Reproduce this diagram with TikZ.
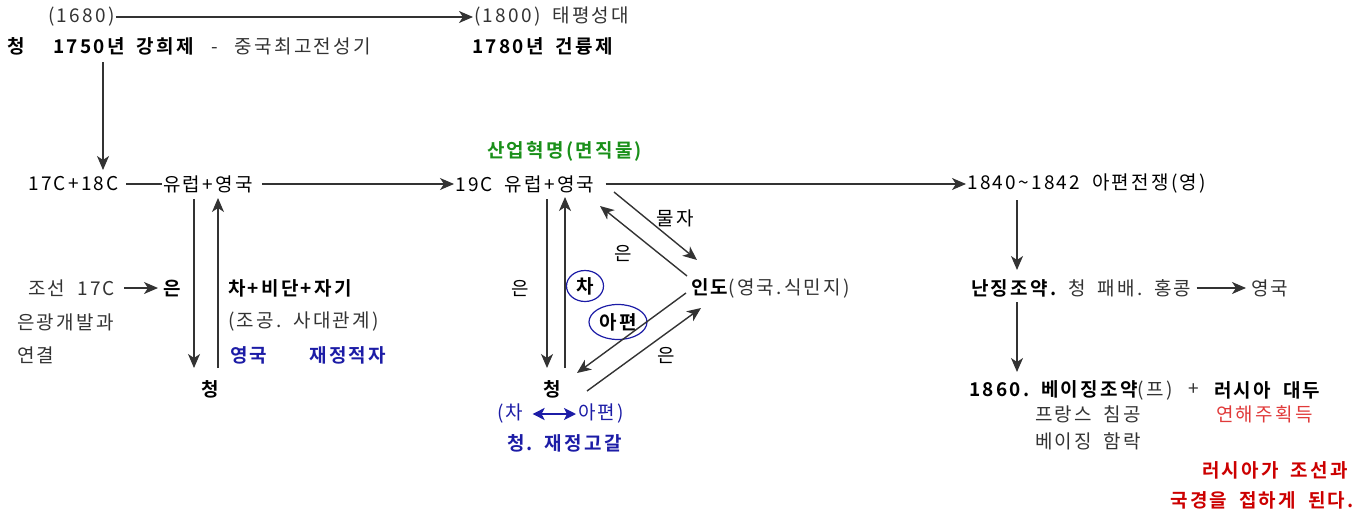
\documentclass[tikz,border=0pt]{standalone}
\usepackage{fontspec}
\setmainfont{Noto Sans CJK KR}[LetterSpace=12, WordSpace=1.8, BoldFont={Noto Sans CJK KR Bold}]
\usetikzlibrary{shapes.geometric, arrows.meta, positioning, calc}
\definecolor{inkgrey}{HTML}{333333}
\definecolor{notenavy}{HTML}{1C1CA6}
\definecolor{revgreen}{HTML}{1A901A}
\definecolor{alertred}{HTML}{CC0000}
\definecolor{softred}{HTML}{E03A3A}

\begin{document}
\begin{tikzpicture}[
    x=1pt, y=1pt,
    % text styles
    every node/.style={inner sep=1pt, font=\fontsize{19}{22}\selectfont, text=inkgrey},
    plain/.style={anchor=west},
    dark/.style={anchor=west, text=black},
    key/.style={anchor=west, text=black, font=\fontsize{19}{22}\selectfont\bfseries},
    tag/.style={ellipse, draw=notenavy, line width=1.2pt, anchor=center, inner sep=0pt},
    % arrow styles
    flow/.style={-{Stealth[length=14pt, width=12pt, inset=4pt]}, line width=1.4pt, draw=inkgrey},
    link/.style={line width=1.4pt, draw=inkgrey},
    swap/.style={{Stealth[length=12pt, width=12pt, inset=3pt]}-{Stealth[length=12pt, width=12pt, inset=3pt]}, line width=2pt, draw=notenavy},
]
\useasboundingbox (0,0) rectangle (1371,-514);

% ============================================================================
% QING DYNASTY (top)
% ============================================================================
\node[plain] (start) at (47,-17) {(1680)};
\node[plain] (peak) at (473,-17) {(1800)\ 태평성대};
\node[key] (qing0) at (6,-46) {청};
\node[key] (kangxi) at (52,-46) {1750년 강희제};
\node[plain] (kangxinote) at (210,-46) {-\hspace{17pt}중국최고전성기};
\node[key] (qianlong) at (471,-46) {1780년 건륭제};

\draw[flow] (start) -- (peak);

% ============================================================================
% EUROPE ROW
% ============================================================================
\node[dark] (c17) at (27,-184) {17C+18C};
\node[dark] (eu1) at (162,-184) {유럽+영국};
\node[dark] (eu2) at (454,-184) {19C 유럽+영국};
\node[key, text=revgreen] (indrev) at (486,-151) {산업혁명(면직물)};
\node[dark] (opium) at (966,-184) {1840\textasciitilde1842 아편전쟁(영)};

\draw[flow] ($(kangxi.west)+(51,-16)$) -- ($(c17.west)+(76,14)$);
\draw[link, shorten <=6pt] (c17) -- (eu1);
\draw[flow, shorten <=8pt] (eu1) -- (eu2);
\draw[flow, shorten <=10pt] (eu2) -- (opium);

% ============================================================================
% 17C-18C TRADE (left)
% ============================================================================
\node[plain] (joseon) at (27,-288) {조선 17C};
\node[key] (silver1) at (162,-288) {은};
\node[plain] (mine) at (16,-322) {은광개발과};
\node[plain] (link) at (16,-355) {연결};
\node[key] (goods) at (227,-288) {차+비단+자기};
\node[plain] (tribute) at (227,-322) {(조공.\ 사대관계)};
\node[key, text=notenavy] (deficit) at (229,-355) {영국\hspace{42pt}재정적자};
\node[key, anchor=center] (qing1) at (210,-389) {청};

\draw[flow, shorten <=8pt, shorten >=4pt] (joseon) -- (silver1);
\draw[flow] ($(qing1)+(-16,190)$) -- ($(qing1)+(-16,21)$);
\draw[flow] ($(qing1)+(8,21)$) -- ($(qing1)+(8,191)$);

% ============================================================================
% TRIANGLE TRADE (middle)
% ============================================================================
\node[key, anchor=center] (qing2) at (552,-389) {청};
\node[dark, anchor=center] (silver2) at (520,-288) {은};
\node[key, tag, minimum width=37pt, minimum height=31pt] (tea) at (585,-286) {차};
\node[key, tag, minimum width=58pt, minimum height=35pt] (opiumtag) at (618,-322) {아편};
\node[key] (india) at (690,-288) {인도\mdseries\color{inkgrey}(영국.식민지)};
\node[dark, anchor=center] (goodslbl) at (675,-218) {물자};
\node[dark, anchor=center] (silver3) at (623,-253) {은};
\node[dark, anchor=center] (silver4) at (666,-355) {은};
\node[plain, text=notenavy] (tea2) at (496,-414) {(차};
\node[plain, text=notenavy] (opium2) at (577,-414) {아편)};
\node[key, text=notenavy] (drain) at (506,-443) {청.\ 재정고갈};

\draw[flow] ($(qing2)+(-5,190)$) -- ($(qing2)+(-5,21)$);
\draw[flow] ($(qing2)+(13,21)$) -- ($(qing2)+(13,192)$);
\draw[flow] ($(eu2.west)+(160,-8)$) -- ($(india.west)+(7,28)$);
\draw[flow] ($(india.west)+(-3,12)$) -- ($(eu2.west)+(146,-22)$);
\draw[flow] ($(india.west)+(-4,-5)$) -- ($(qing2)+(25,16)$);
\draw[flow] ($(qing2)+(35,-2)$) -- ($(india.west)+(11,-20)$);
\draw[swap, shorten <=8pt, shorten >=1pt] (tea2) -- (opium2);

% ============================================================================
% OPIUM WAR (right)
% ============================================================================
\node[key] (nanjing) at (970,-288) {난징조약.\ \mdseries\color{inkgrey}청 패배.\ 홍콩};
\node[plain] (hk) at (1250,-288) {영국};
\node[key] (beijing) at (968,-390) {1860.\ 베이징조약\mdseries\color{inkgrey}(프)};
\node[plain] (plus) at (1187,-390) {+};
\node[key] (russia) at (1213,-390) {러시아 대두};
\node[plain] (france) at (1034,-414) {프랑스 침공};
\node[plain] (fall) at (1034,-441) {베이징 함락};
\node[plain, text=softred] (maritime) at (1215,-414) {연해주획득};
\node[key, text=alertred, anchor=east] (border1) at (1349,-470) {러시아가 조선과};
\node[key, text=alertred, anchor=east] (border2) at (1355,-500) {국경을 접하게 된다.};

\draw[flow] ($(opium.west)+(51,-16)$) -- ($(nanjing.west)+(47,18)$);
\draw[flow] ($(nanjing.west)+(47,-14)$) -- ($(beijing.west)+(49,18)$);
\draw[flow, shorten <=4pt, shorten >=4pt] (nanjing) -- (hk);

\end{tikzpicture}
\end{document}
